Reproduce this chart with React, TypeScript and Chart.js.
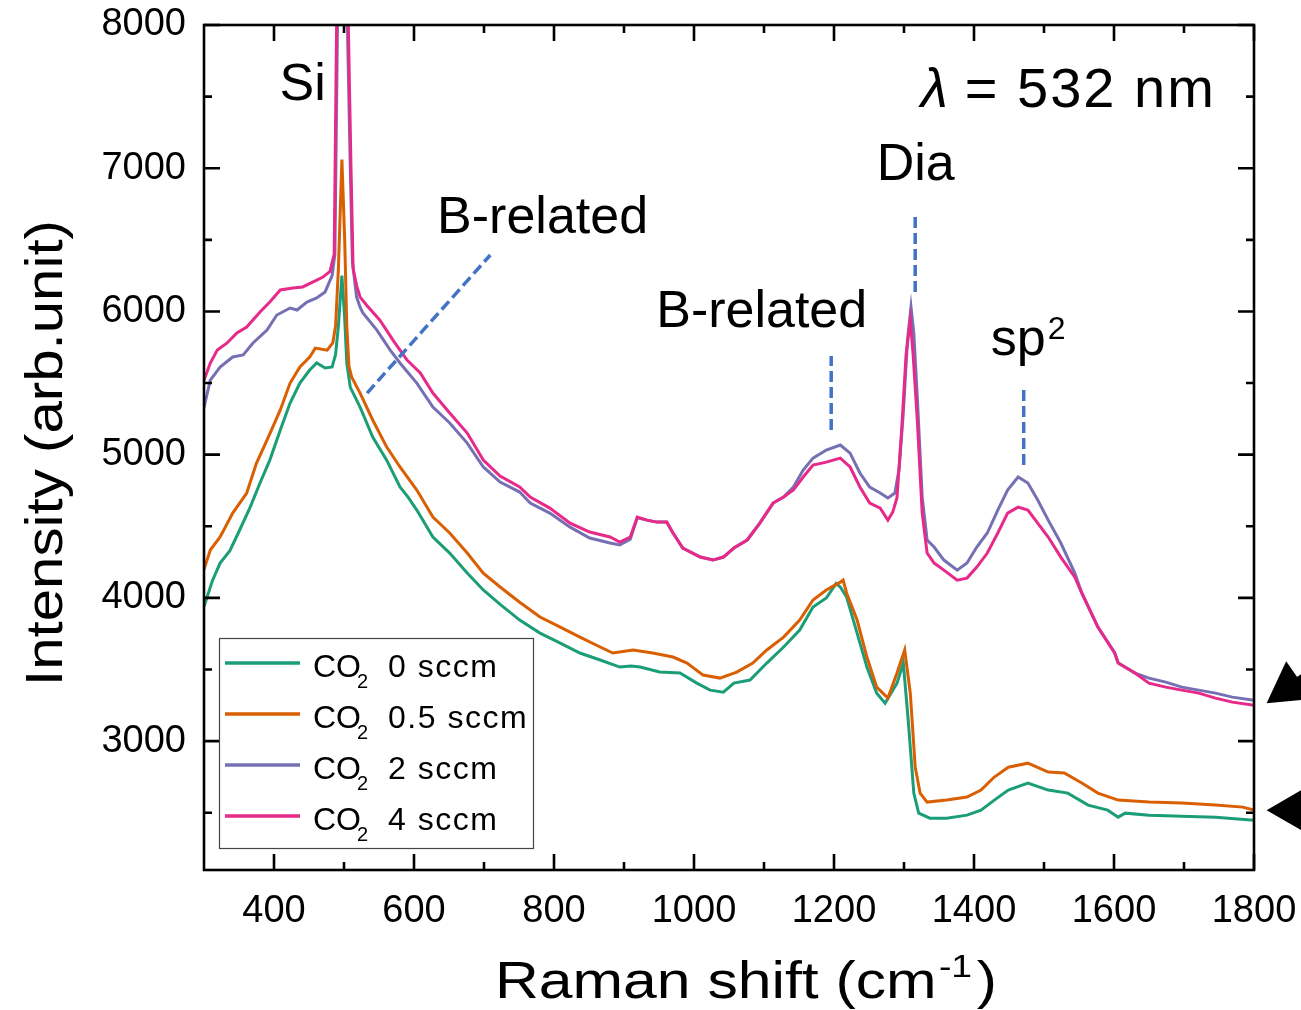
import React, { useEffect, useRef } from "react";
import { Chart, registerables } from "chart.js";

Chart.register(...registerables);

const FONT = '"Liberation Sans", Arial, Helvetica, sans-serif';

// ---- Data (Raman shift cm^-1, intensity arb.unit) ----
const co2_0sccm: [number, number][] = [
  [300, 3940], [312, 4120], [323, 4243], [337, 4330], [351, 4474], [366, 4634], [380, 4802], [394, 4962], [409, 5172], [423, 5360],
  [437, 5500], [451, 5591], [461, 5640], [473, 5605], [483, 5612], [488, 5700], [492, 5900], [497, 6250],
  [501, 5950], [504, 5640], [509, 5470], [523, 5332], [541, 5123], [561, 4962], [580, 4774], [592, 4700], [604, 4613],
  [627, 4425], [651, 4313], [676, 4173], [699, 4055], [723, 3955], [751, 3845], [780, 3754], [809, 3684],
  [837, 3615], [866, 3566], [894, 3517], [910, 3525], [923, 3517], [951, 3482], [980, 3475], [1004, 3405], [1023, 3356],
  [1042, 3342], [1057, 3405], [1080, 3426], [1104, 3545], [1128, 3657], [1151, 3775], [1170, 3936],
  [1189, 3999], [1203, 4100], [1209, 4076], [1218, 4006], [1233, 3754], [1247, 3517], [1261, 3335],
  [1273, 3265], [1290, 3405], [1299, 3545], [1306, 3147], [1314, 2637], [1321, 2497], [1337, 2462],
  [1361, 2462], [1390, 2483], [1410, 2518], [1429, 2588], [1449, 2658], [1477, 2707], [1506, 2658],
  [1534, 2637], [1563, 2553], [1591, 2518], [1606, 2469], [1616, 2497], [1650, 2483], [1697, 2476],
  [1745, 2469], [1800, 2448],
];

const co2_05sccm: [number, number][] = [
  [300, 4200], [309, 4334], [323, 4425], [341, 4592], [361, 4732], [375, 4941], [390, 5102], [409, 5312],
  [423, 5500], [437, 5612], [451, 5682], [459, 5744], [476, 5730], [484, 5780], [488, 5900], [492, 6300],
  [497, 7060], [501, 6500], [504, 5900], [507, 5620], [511, 5540], [523, 5430], [541, 5242], [561, 5053],
  [580, 4914], [604, 4753], [627, 4564], [651, 4453], [676, 4313], [699, 4173], [723, 4076], [751, 3970],
  [780, 3866], [809, 3796], [837, 3726], [866, 3657], [884, 3615], [913, 3636], [941, 3615], [970, 3587],
  [990, 3545], [1013, 3461], [1037, 3440], [1061, 3482], [1084, 3545], [1104, 3636], [1128, 3726],
  [1151, 3845], [1170, 3985], [1189, 4055], [1209, 4110], [1213, 4125], [1218, 4034], [1233, 3845],
  [1247, 3587], [1261, 3377], [1277, 3300], [1290, 3475], [1301, 3636], [1309, 3335], [1316, 2818],
  [1323, 2637], [1333, 2574], [1361, 2588], [1390, 2609], [1410, 2658], [1429, 2749], [1449, 2818],
  [1477, 2846], [1506, 2784], [1529, 2777], [1554, 2707], [1577, 2637], [1606, 2588], [1650, 2574],
  [1697, 2567], [1745, 2553], [1784, 2539], [1800, 2518],
];

const co2_2sccm: [number, number][] = [
  [300, 5330], [309, 5521], [323, 5612], [341, 5682], [356, 5696], [370, 5780], [390, 5870], [404, 5975],
  [423, 6024], [433, 6010], [447, 6066], [461, 6094], [473, 6136], [483, 6250], [487, 6400], [490, 7700],
  [494, 9500], [497, 10500], [501, 9500], [504, 8200], [509, 7000], [512, 6350], [518, 6100], [523, 6030],
  [527, 5989], [547, 5870], [566, 5730], [580, 5640], [604, 5500], [627, 5332], [651, 5221], [676, 5081],
  [699, 4914], [723, 4809], [751, 4739], [766, 4662], [794, 4592], [823, 4494], [851, 4418], [880, 4383],
  [894, 4369], [909, 4410], [919, 4560], [933, 4543], [947, 4529], [961, 4529], [970, 4453], [984, 4348],
  [1009, 4285], [1027, 4264], [1042, 4285], [1057, 4348], [1076, 4404], [1094, 4522], [1113, 4662],
  [1128, 4704], [1142, 4774], [1156, 4893], [1170, 4976], [1189, 5032], [1209, 5067], [1223, 5011],
  [1237, 4872], [1251, 4774], [1266, 4732], [1277, 4697], [1287, 4732], [1293, 4900], [1299, 5291],
  [1305, 5800], [1310, 6030], [1314, 5850], [1319, 5402], [1326, 4704], [1333, 4404], [1343, 4355],
  [1357, 4264], [1376, 4194], [1390, 4243], [1404, 4355], [1419, 4453], [1434, 4613], [1448, 4753],
  [1463, 4844], [1477, 4802], [1491, 4683], [1506, 4543], [1524, 4383], [1544, 4173], [1554, 4034],
  [1577, 3796], [1601, 3615], [1606, 3545], [1630, 3475], [1650, 3440], [1674, 3412], [1697, 3377],
  [1721, 3356], [1745, 3335], [1769, 3307], [1800, 3286],
];

const co2_4sccm: [number, number][] = [
  [300, 5520], [309, 5640], [319, 5730], [333, 5780], [347, 5850], [361, 5891], [380, 5996], [394, 6066],
  [409, 6150], [427, 6164], [441, 6171], [456, 6206], [470, 6240], [480, 6280], [486, 6400], [489, 7800],
  [493, 9500], [497, 10500], [501, 9500], [505, 8300], [510, 7000], [513, 6300], [518, 6180], [523, 6100],
  [533, 6040], [551, 5940], [570, 5800], [590, 5660], [609, 5570], [627, 5430], [651, 5291], [676, 5151],
  [699, 4962], [723, 4851], [751, 4774], [766, 4704], [794, 4627], [823, 4522], [851, 4460], [880, 4425],
  [894, 4390], [909, 4425], [919, 4564], [933, 4543], [947, 4529], [961, 4529], [970, 4453], [984, 4348],
  [1009, 4285], [1027, 4264], [1042, 4285], [1057, 4348], [1076, 4404], [1094, 4522], [1113, 4662],
  [1128, 4704], [1142, 4753], [1156, 4844], [1170, 4927], [1189, 4948], [1209, 4976], [1223, 4914],
  [1237, 4774], [1251, 4662], [1266, 4627], [1277, 4543], [1284, 4600], [1290, 4700], [1297, 5200],
  [1303, 5700], [1309, 5940], [1313, 5700], [1319, 5242], [1326, 4592], [1333, 4313], [1343, 4243],
  [1357, 4194], [1376, 4124], [1390, 4138], [1404, 4215], [1419, 4313], [1434, 4453], [1448, 4592],
  [1463, 4634], [1477, 4613], [1491, 4522], [1506, 4425], [1524, 4285], [1544, 4145], [1554, 4034],
  [1577, 3796], [1601, 3615], [1606, 3545], [1630, 3475], [1650, 3405], [1674, 3377], [1697, 3356],
  [1721, 3335], [1745, 3300], [1769, 3272], [1800, 3251],
];

const seriesData = [co2_0sccm, co2_05sccm, co2_2sccm, co2_4sccm];
const flowRates = ["0", "0.5", "2", "4"];
const seriesColors = ["#1b9e77", "#d95f02", "#7570b3", "#e7298a"];

const xMajorTicks = [400, 600, 800, 1000, 1200, 1400, 1600, 1800];
const xMinorTicks = [500, 700, 900, 1100, 1300, 1500, 1700];
const yMajorTicks = [3000, 4000, 5000, 6000, 7000, 8000];
const yMinorTicks = [2500, 3500, 4500, 5500, 6500, 7500];

// Annotations (data coordinates)
const peakLabels = [
  { text: "Si", x: 408, y: 7476 },
  { text: "B-related", x: 633, y: 6548 },
  { text: "B-related", x: 946, y: 5891 },
  { text: "Dia", x: 1261, y: 6918 },
];
const sp2Label = { x: 1424, y: 5696 };
const wavelengthLabel = { x: 1324, y: 7427 };
const markerLines = [
  { x1: 533, y1: 5430, x2: 709, y2: 6394 },
  { x1: 1196, y1: 5172, x2: 1196, y2: 5689 },
  { x1: 1316, y1: 6136, x2: 1316, y2: 6673 },
  { x1: 1471, y1: 4927, x2: 1471, y2: 5451 },
];
const sideArrows = [
  { x: 1818, y: 3265, angleDeg: -35 },
  { x: 1818, y: 2518, angleDeg: 0 },
];

const overlayPlugin = {
  id: "overlay",
  afterDatasetsDraw(chart: any) {
    const ctx: CanvasRenderingContext2D = chart.ctx;
    const a = chart.chartArea;
    const xs = chart.scales.x;
    const ys = chart.scales.y;
    const px = (v: number) => xs.getPixelForValue(v);
    const py = (v: number) => ys.getPixelForValue(v);
    ctx.save();

    // dashed peak markers
    ctx.strokeStyle = "#4472c4";
    ctx.lineWidth = 3.5;
    ctx.setLineDash([11, 5]);
    for (const m of markerLines) {
      ctx.beginPath();
      ctx.moveTo(px(m.x1), py(m.y1));
      ctx.lineTo(px(m.x2), py(m.y2));
      ctx.stroke();
    }
    ctx.setLineDash([]);

    // frame
    ctx.strokeStyle = "#000";
    ctx.lineWidth = 2.6;
    ctx.strokeRect(a.left, a.top, a.right - a.left, a.bottom - a.top);

    // inward ticks on all sides
    const xTick = (v: number, len: number) => {
      const x = px(v);
      ctx.beginPath();
      ctx.moveTo(x, a.bottom);
      ctx.lineTo(x, a.bottom - len);
      ctx.moveTo(x, a.top);
      ctx.lineTo(x, a.top + len);
      ctx.stroke();
    };
    const yTick = (v: number, len: number) => {
      const y = py(v);
      ctx.beginPath();
      ctx.moveTo(a.left, y);
      ctx.lineTo(a.left + len, y);
      ctx.moveTo(a.right, y);
      ctx.lineTo(a.right - len, y);
      ctx.stroke();
    };
    xMajorTicks.forEach((v) => xTick(v, 16));
    xMinorTicks.forEach((v) => xTick(v, 8));
    yMajorTicks.forEach((v) => yTick(v, 16));
    yMinorTicks.forEach((v) => yTick(v, 8));

    // annotation texts
    ctx.fillStyle = "#000";
    ctx.textAlign = "left";
    ctx.textBaseline = "alphabetic";
    ctx.font = `52px ${FONT}`;
    for (const t of peakLabels) ctx.fillText(t.text, px(t.x), py(t.y));
    const spx = px(sp2Label.x);
    const spy = py(sp2Label.y);
    ctx.fillText("sp", spx, spy);
    const spw = ctx.measureText("sp").width;
    ctx.font = `32px ${FONT}`;
    ctx.fillText("2", spx + spw + 2, spy - 16);

    // wavelength
    const wx = px(wavelengthLabel.x);
    const wy = py(wavelengthLabel.y);
    ctx.font = `italic 55px ${FONT}`;
    ctx.fillText("\u03bb", wx, wy);
    ctx.font = `56px ${FONT}`;
    (ctx as any).letterSpacing = "2px";
    ctx.fillText("= 532 nm", wx + 44, wy);
    (ctx as any).letterSpacing = "0px";

    // legend
    const lx = 219.5, ly = 638.5, lw = 314, lh = 210;
    ctx.fillStyle = "#fff";
    ctx.fillRect(lx, ly, lw, lh);
    ctx.strokeStyle = "#444";
    ctx.lineWidth = 1.2;
    ctx.strokeRect(lx, ly, lw, lh);
    flowRates.forEach((rate, i) => {
      const cy = 663 + i * 51;
      ctx.strokeStyle = seriesColors[i];
      ctx.lineWidth = 3.5;
      ctx.beginPath();
      ctx.moveTo(225, cy);
      ctx.lineTo(300, cy);
      ctx.stroke();
      ctx.fillStyle = "#000";
      ctx.font = `32px ${FONT}`;
      ctx.fillText("CO", 313, cy + 14);
      ctx.font = `20px ${FONT}`;
      ctx.fillText("2", 357, cy + 25);
      ctx.font = `32px ${FONT}`;
      (ctx as any).letterSpacing = "1.5px";
      ctx.fillText(`${rate} sccm`, 388, cy + 14);
      (ctx as any).letterSpacing = "0px";
    });

    // x axis title
    ctx.fillStyle = "#000";
    ctx.font = `52px ${FONT}`;
    const t1 = "Raman shift (cm";
    const w1 = ctx.measureText(t1).width;
    const w3 = ctx.measureText(")").width;
    ctx.font = `32px ${FONT}`;
    const w2 = ctx.measureText("-1").width;
    const sxX = 502 / (w1 + w2 + 6 + w3);
    ctx.save();
    ctx.translate(495, 998);
    ctx.scale(sxX, 1);
    ctx.font = `52px ${FONT}`;
    ctx.fillText(t1, 0, 0);
    ctx.font = `32px ${FONT}`;
    ctx.fillText("-1", w1 + 2, -21);
    ctx.font = `52px ${FONT}`;
    ctx.fillText(")", w1 + w2 + 6, 0);
    ctx.restore();

    // y axis title
    ctx.font = `52px ${FONT}`;
    const yt = "Intensity (arb.unit)";
    const ytw = ctx.measureText(yt).width;
    ctx.save();
    ctx.translate(62, 686);
    ctx.rotate(-Math.PI / 2);
    ctx.scale(466 / ytw, 1);
    ctx.fillText(yt, 0, 0);
    ctx.restore();

    // side arrows
    ctx.fillStyle = "#000";
    ctx.strokeStyle = "#000";
    for (const ar of sideArrows) {
      const tx = px(ar.x);
      const ty = py(ar.y);
      const ang = (ar.angleDeg * Math.PI) / 180;
      const dx = Math.cos(ang), dy = Math.sin(ang);
      const nx = -dy, ny = dx;
      const L = 40, W = 23;
      const bx = tx + dx * L, by = ty + dy * L;
      ctx.beginPath();
      ctx.moveTo(tx, ty);
      ctx.lineTo(bx + nx * W, by + ny * W);
      ctx.lineTo(bx - nx * W, by - ny * W);
      ctx.closePath();
      ctx.fill();
      ctx.lineWidth = 8;
      ctx.beginPath();
      ctx.moveTo(bx - dx * 2, by - dy * 2);
      ctx.lineTo(bx + dx * 60, by + dy * 60);
      ctx.stroke();
    }

    ctx.restore();
  },
};

const zeroPadding = (s: any) => {
  s.paddingTop = 0;
  s.paddingBottom = 0;
  s.paddingLeft = 0;
  s.paddingRight = 0;
};

export default function App() {
  const ref = useRef<HTMLCanvasElement>(null);

  useEffect(() => {
    const canvas = ref.current;
    if (!canvas) return;
    const chart = new Chart(canvas, {
      type: "line",
      data: {
        datasets: seriesData.map((d, i) => ({
          label: `CO2 ${flowRates[i]} sccm`,
          data: d.map(([x, y]) => ({ x, y })),
          borderColor: seriesColors[i],
          backgroundColor: seriesColors[i],
          borderWidth: 3,
          pointRadius: 0,
          tension: 0,
          fill: false,
          order: 3 - i,
        })),
      },
      options: {
        responsive: false,
        animation: false,
        devicePixelRatio: 1,
        layout: { padding: { top: 25, right: 47, left: 0, bottom: 0 } },
        plugins: { legend: { display: false }, tooltip: { enabled: false } },
        scales: {
          x: {
            type: "linear",
            min: 300,
            max: 1800,
            grid: { display: false, drawTicks: false },
            border: { display: false },
            ticks: {
              autoSkip: false,
              maxRotation: 0,
              padding: 19,
              color: "#000",
              font: { family: FONT, size: 38 },
              callback: (v: any) => String(v),
            },
            afterBuildTicks: (s: any) => {
              s.ticks = xMajorTicks.map((v) => ({ value: v }));
            },
            afterFit: (s: any) => {
              s.height = 140;
              zeroPadding(s);
            },
          },
          y: {
            type: "linear",
            min: 2100,
            max: 8000,
            grid: { display: false, drawTicks: false },
            border: { display: false },
            ticks: {
              autoSkip: false,
              padding: 18,
              color: "#000",
              font: { family: FONT, size: 38 },
              callback: (v: any) => String(v),
            },
            afterBuildTicks: (s: any) => {
              s.ticks = yMajorTicks.map((v) => ({ value: v }));
            },
            afterFit: (s: any) => {
              s.width = 204;
              zeroPadding(s);
            },
          },
        },
      },
      plugins: [overlayPlugin],
    } as any);
    return () => chart.destroy();
  }, []);

  return (
    <div style={{ position: "absolute", left: 0, top: 0, width: 1301, height: 1010, background: "#fff" }}>
      <canvas ref={ref} width={1301} height={1010} style={{ display: "block", width: 1301, height: 1010 }} />
    </div>
  );
}
